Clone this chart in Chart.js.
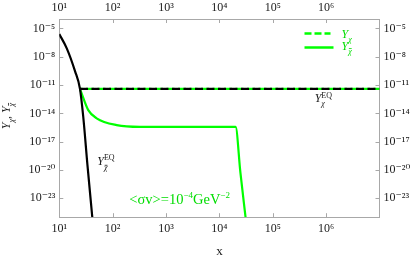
<!DOCTYPE html>
<html><head><meta charset="utf-8">
<script src="https://cdn.jsdelivr.net/npm/chart.js@4"></script>
<style>html,body{margin:0;padding:0;background:#fff}canvas{display:block}</style>
</head><body>
<canvas id="c" width="414" height="260"></canvas>
<script>
// ---- data ----
const xTickValues = [1e1, 1e2, 1e3, 1e4, 1e5, 1e6];
const xTickLabels = ['10¹', '10²', '10³', '10⁴', '10⁵', '10⁶'];
const yTickValues = [1e-5, 1e-8, 1e-11, 1e-14, 1e-17, 1e-20, 1e-23];
const yTickLabels = ['10⁻⁵', '10⁻⁸', '10⁻¹¹', '10⁻¹⁴', '10⁻¹⁷', '10⁻²⁰', '10⁻²³'];

// Y_chibar^EQ (black solid)
const eqBarX = [10, 13.8, 19.7, 24.4, 28.1, 33.7, 41.5];
const eqBarY = [2.5e-6, 7.8e-8, 3.0e-10, 4.0e-12, 4.4e-15, 3.3e-20, 1.0e-25];
// Y_chibar (green solid)
const yBarX = [24.4, 26.2, 34.9, 50.1, 119, 324, 20100, 24700, 30900];
const yBarY = [4.0e-12, 1.3e-12, 2.2e-14, 3.0e-15, 5.8e-16, 3.8e-16, 3.7e-16, 6.0e-21, 1.0e-25];
// Y_chi (green dashed)
const yChiX = [24.4, 1e7];
const yChiY = [4.0e-12, 4.0e-12];
// Y_chi^EQ (black dashed)
const eqChiX = [24.4, 1e7];
const eqChiY = [4.0e-12, 4.0e-12];

const pts = (xs, ys) => xs.map((x, i) => ({x: x, y: ys[i]}));

const SERIF = '"Liberation Serif","DejaVu Serif","Times New Roman",serif';
const GREEN = '#00ff00';
const GREEN_TXT = '#00dd00';
const FRAME = '#a8a8a8';
const TXT = '#1a1a1a';

function richWidth(ctx, parts) {
  let w = 0, sw = 0;
  for (const p of parts) {
    ctx.font = (p.it ? 'italic ' : '') + p.s + 'px ' + SERIF;
    const pw = ctx.measureText(p.t).width;
    if (p.stack) { sw = Math.max(sw, pw); } else { w += Math.max(pw, sw); sw = 0; }
  }
  return w + sw;
}
function drawRich(ctx, x, y, parts, color) {
  ctx.save();
  ctx.fillStyle = color; ctx.strokeStyle = color;
  ctx.textAlign = 'left'; ctx.textBaseline = 'alphabetic';
  let cx = x, sw = 0;
  for (const p of parts) {
    ctx.font = (p.it ? 'italic ' : '') + p.s + 'px ' + SERIF;
    const pw = ctx.measureText(p.t).width;
    const dy = p.dy || 0;
    ctx.fillText(p.t, cx, y + dy);
    if (p.bar) {
      ctx.lineWidth = 0.8;
      ctx.beginPath();
      ctx.moveTo(cx + pw * 0.2, y + dy - p.s * 0.62);
      ctx.lineTo(cx + pw * 1.0, y + dy - p.s * 0.62);
      ctx.stroke();
    }
    if (p.stack) { sw = Math.max(sw, pw); } else { cx += Math.max(pw, sw); sw = 0; }
  }
  ctx.restore();
}

const decorPlugin = {
  id: 'decor',
  afterDatasetsDraw(chart) {
    const ctx = chart.ctx;
    const a = chart.chartArea;
    const sx = chart.scales.x, sy = chart.scales.y;
    // inner tick marks on all four sides
    ctx.save();
    ctx.strokeStyle = FRAME; ctx.lineWidth = 1;
    ctx.beginPath();
    xTickValues.forEach(v => {
      const px = Math.round(sx.getPixelForValue(v)) + 0.5;
      ctx.moveTo(px, a.bottom); ctx.lineTo(px, a.bottom - 4);
      ctx.moveTo(px, a.top); ctx.lineTo(px, a.top + 4);
    });
    yTickValues.forEach(v => {
      const py = Math.round(sy.getPixelForValue(v)) + 0.5;
      ctx.moveTo(a.left, py); ctx.lineTo(a.left + 4, py);
      ctx.moveTo(a.right, py); ctx.lineTo(a.right - 4, py);
    });
    ctx.stroke();
    ctx.restore();

    // curve labels
    drawRich(ctx, sx.getPixelForValue(6.1e5), sy.getPixelForValue(1.7e-13), [
      {t: 'Y', s: 12, it: true},
      {t: 'EQ', s: 8, dy: -4, stack: true},
      {t: 'χ', s: 8, it: true, dy: 4.5}
    ], TXT);
    drawRich(ctx, sx.getPixelForValue(51.5), sy.getPixelForValue(3.2e-20), [
      {t: 'Y', s: 12, it: true},
      {t: 'EQ', s: 8, dy: -5, stack: true},
      {t: 'χ', s: 8, it: true, dy: 5, bar: true}
    ], TXT);
    drawRich(ctx, sx.getPixelForValue(205), sy.getPixelForValue(2.3e-24), [
      {t: '<σv>=10', s: 14.5},
      {t: '−4', s: 9, dy: -6},
      {t: 'GeV', s: 14.5},
      {t: '−2', s: 9, dy: -6}
    ], GREEN_TXT);

    // legend (top right inside the frame)
    const lx0 = a.right - 75, lx1 = a.right - 49;
    ctx.save();
    ctx.strokeStyle = GREEN; ctx.lineWidth = 2.5;
    ctx.setLineDash([7, 3]);
    ctx.beginPath(); ctx.moveTo(lx0, a.top + 14.5); ctx.lineTo(lx1, a.top + 14.5); ctx.stroke();
    ctx.setLineDash([]);
    ctx.beginPath(); ctx.moveTo(lx0, a.top + 28.5); ctx.lineTo(lx1 + 3, a.top + 28.5); ctx.stroke();
    ctx.restore();
    drawRich(ctx, a.right - 38, a.top + 19, [
      {t: 'Y', s: 12, it: true}, {t: 'χ', s: 8, it: true, dy: 3.5}
    ], GREEN_TXT);
    drawRich(ctx, a.right - 38, a.top + 31, [
      {t: 'Y', s: 12, it: true}, {t: 'χ', s: 8, it: true, dy: 3.5, bar: true}
    ], GREEN_TXT);

    // y axis title (rotated)
    const tParts = [
      {t: 'Y', s: 12, it: true}, {t: 'χ', s: 8, it: true, dy: 3.5},
      {t: ', ', s: 12},
      {t: 'Y', s: 12, it: true}, {t: 'χ', s: 8, it: true, dy: 3.5, bar: true}
    ];
    const tw = richWidth(ctx, tParts);
    ctx.save();
    ctx.translate(10, (a.top + a.bottom) / 2 - 2);
    ctx.rotate(-Math.PI / 2);
    drawRich(ctx, -tw / 2, 0, tParts, TXT);
    ctx.restore();
  }
};

const tickFont = {family: SERIF, size: 12};
function xAxis(pos, h, withTitle) {
  return {
    type: 'logarithmic', position: pos, min: 10, max: 1e7,
    grid: {display: false, drawTicks: false, tickLength: 0},
    border: {display: true, color: FRAME, width: 1},
    afterBuildTicks: s => { s.ticks = xTickValues.map(v => ({value: v})); },
    afterFit: s => { s.height = h; },
    ticks: {
      autoSkip: false, maxRotation: 0, padding: 4, color: TXT, font: tickFont,
      callback: (v, i) => xTickLabels[i]
    },
    title: withTitle ? {display: true, text: 'x', color: TXT, font: {family: SERIF, size: 13}, padding: {top: 0, bottom: 1}} : {display: false}
  };
}
function yAxis(pos, w) {
  return {
    type: 'logarithmic', position: pos, min: 1e-25, max: 1e-4,
    grid: {display: false, drawTicks: false, tickLength: 0},
    border: {display: true, color: FRAME, width: 1},
    afterBuildTicks: s => { s.ticks = yTickValues.map(v => ({value: v})); },
    afterFit: s => { s.width = w; },
    ticks: {
      autoSkip: false, padding: 4, color: TXT, font: tickFont,
      callback: (v, i) => yTickLabels[i]
    }
  };
}

new Chart(document.getElementById('c'), {
  type: 'line',
  data: {
    datasets: [
      {label: 'Y_χ^EQ', data: pts(eqChiX, eqChiY), borderColor: '#000', borderWidth: 2.2, borderDash: [8, 3.5], order: 0},
      {label: 'Y_χ̄^EQ', data: pts(eqBarX, eqBarY), borderColor: '#000', borderWidth: 2.2, cubicInterpolationMode: 'monotone', order: 0},
      {label: 'Y_χ', data: pts(yChiX, yChiY), borderColor: GREEN, borderWidth: 2.2, borderDash: [8, 3.5], borderDashOffset: 5.5, order: 1},
      {label: 'Y_χ̄', data: pts(yBarX, yBarY), borderColor: GREEN, borderWidth: 2.2, cubicInterpolationMode: 'monotone', order: 1}
    ]
  },
  options: {
    responsive: false, animation: false, devicePixelRatio: 1,
    layout: {padding: 0},
    elements: {point: {radius: 0}, line: {fill: false}},
    plugins: {legend: {display: false}, tooltip: {enabled: false}},
    scales: {
      x2: xAxis('top', 19, false),
      x: xAxis('bottom', 42.8, true),
      y: yAxis('left', 59.3),
      y2: yAxis('right', 34.5)
    }
  },
  plugins: [decorPlugin]
});
</script>
</body></html>
